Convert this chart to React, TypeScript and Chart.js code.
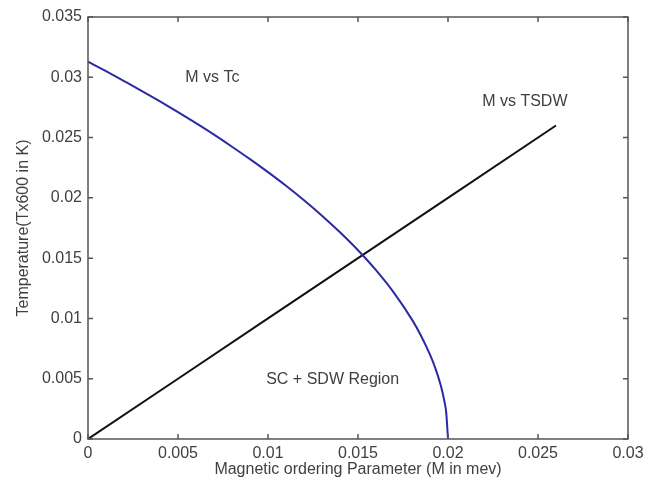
import React, { useEffect, useRef } from "react";
import { Chart, registerables } from "chart.js";

Chart.register(...registerables);

// Blue curve: M vs Tc
const tcM = [0, 0.001, 0.002, 0.003, 0.004, 0.005, 0.006, 0.007, 0.008, 0.009, 0.010, 0.011, 0.012, 0.013, 0.014, 0.015, 0.016, 0.017, 0.018, 0.0185, 0.019, 0.0193, 0.0196, 0.0198, 0.0199, 0.02];
const tcT = [0.0313, 0.03051, 0.02969, 0.02886, 0.028, 0.02711, 0.02619, 0.02524, 0.02424, 0.02321, 0.02213, 0.021, 0.0198, 0.01852, 0.01714, 0.01565, 0.014, 0.01212, 0.0099, 0.00857, 0.007, 0.00586, 0.00443, 0.00313, 0.00221, 0];

// Black line: M vs TSDW
const sdwM = [0, 0.005, 0.01, 0.015, 0.02, 0.026];
const sdwT = [0, 0.005, 0.01, 0.015, 0.02, 0.026];

const xTickValues = [0, 0.005, 0.01, 0.015, 0.02, 0.025, 0.03];
const xTickLabels = ["0", "0.005", "0.01", "0.015", "0.02", "0.025", "0.03"];
const yTickValues = [0, 0.005, 0.01, 0.015, 0.02, 0.025, 0.03, 0.035];
const yTickLabels = ["0", "0.005", "0.01", "0.015", "0.02", "0.025", "0.03", "0.035"];

const annotationTexts = ["M vs Tc", "M vs TSDW", "SC + SDW Region"];
const annotationX = [0.0054, 0.0219, 0.0099];
const annotationY = [0.0300, 0.0280, 0.0049];

const FONT = "'Liberation Sans', Arial, sans-serif";
const TEXT_COLOR = "#404040";

const boxPlugin = {
  id: "matlabBox",
  afterDatasetsDraw(chart: any) {
    const { ctx, chartArea, scales } = chart;
    const { left, right, top, bottom } = chartArea;
    ctx.save();
    // annotations
    ctx.fillStyle = TEXT_COLOR;
    ctx.font = `16px ${FONT}`;
    ctx.textAlign = "left";
    ctx.textBaseline = "middle";
    annotationTexts.forEach((t, i) => {
      ctx.fillText(t, scales.x.getPixelForValue(annotationX[i]), scales.y.getPixelForValue(annotationY[i]));
    });
    // box
    ctx.strokeStyle = "#555";
    ctx.lineWidth = 1.5;
    ctx.strokeRect(left, top, right - left, bottom - top);
    // inward ticks
    const tl = 5;
    ctx.beginPath();
    xTickValues.forEach((v) => {
      const px = scales.x.getPixelForValue(v);
      ctx.moveTo(px, bottom);
      ctx.lineTo(px, bottom - tl);
      ctx.moveTo(px, top);
      ctx.lineTo(px, top + tl);
    });
    yTickValues.forEach((v) => {
      const py = scales.y.getPixelForValue(v);
      ctx.moveTo(left, py);
      ctx.lineTo(left + tl, py);
      ctx.moveTo(right, py);
      ctx.lineTo(right - tl, py);
    });
    ctx.stroke();
    ctx.restore();
  },
};

export default function App() {
  const ref = useRef<HTMLCanvasElement | null>(null);

  useEffect(() => {
    if (!ref.current) return;
    const chart = new Chart(ref.current, {
      type: "scatter",
      data: {
        datasets: [
          {
            label: "M vs Tc",
            data: tcM.map((m, i) => ({ x: m, y: tcT[i] })),
            showLine: true,
            borderColor: "#2a2aa4",
            borderWidth: 2,
            pointRadius: 0,
            cubicInterpolationMode: "monotone",
          },
          {
            label: "M vs TSDW",
            data: sdwM.map((m, i) => ({ x: m, y: sdwT[i] })),
            showLine: true,
            borderColor: "#111111",
            borderWidth: 2,
            pointRadius: 0,
            tension: 0,
          },
        ],
      },
      options: {
        responsive: false,
        animation: false,
        layout: { padding: { left: 0, top: 17, right: 28, bottom: 0 } },
        plugins: {
          legend: { display: false },
          tooltip: { enabled: false },
        },
        scales: {
          x: {
            type: "linear",
            min: 0,
            max: 0.03,
            afterBuildTicks: (s: any) => {
              s.ticks = xTickValues.map((v) => ({ value: v }));
            },
            afterFit: (s: any) => {
              s.height = 48;
            },
            grid: { display: false, drawTicks: false },
            border: { display: false },
            ticks: {
              padding: 5,
              color: TEXT_COLOR,
              font: { family: FONT, size: 16 },
              maxRotation: 0,
              autoSkip: false,
              callback: (_v: any, i: number) => xTickLabels[i],
            },
            title: {
              display: true,
              text: "Magnetic ordering Parameter (M in mev)",
              color: TEXT_COLOR,
              font: { family: FONT, size: 16 },
              padding: { top: 0, bottom: 7.4 },
            },
          },
          y: {
            type: "linear",
            min: 0,
            max: 0.035,
            afterBuildTicks: (s: any) => {
              s.ticks = yTickValues.map((v) => ({ value: v }));
            },
            afterFit: (s: any) => {
              s.width = 88;
            },
            grid: { display: false, drawTicks: false },
            border: { display: false },
            ticks: {
              padding: 6,
              color: TEXT_COLOR,
              font: { family: FONT, size: 16 },
              autoSkip: false,
              callback: (_v: any, i: number) => yTickLabels[i],
            },
            title: {
              display: true,
              text: "Temperature(Tx600 in K)",
              color: TEXT_COLOR,
              font: { family: FONT, size: 16 },
              padding: { top: 14.4, bottom: 0 },
            },
          },
        },
      },
      plugins: [boxPlugin],
    });
    return () => chart.destroy();
  }, []);

  return (
    <div style={{ position: "fixed", left: 0, top: 0, width: 656, height: 487, background: "#fff" }}>
      <canvas ref={ref} width={656} height={487} style={{ display: "block" }} />
    </div>
  );
}
